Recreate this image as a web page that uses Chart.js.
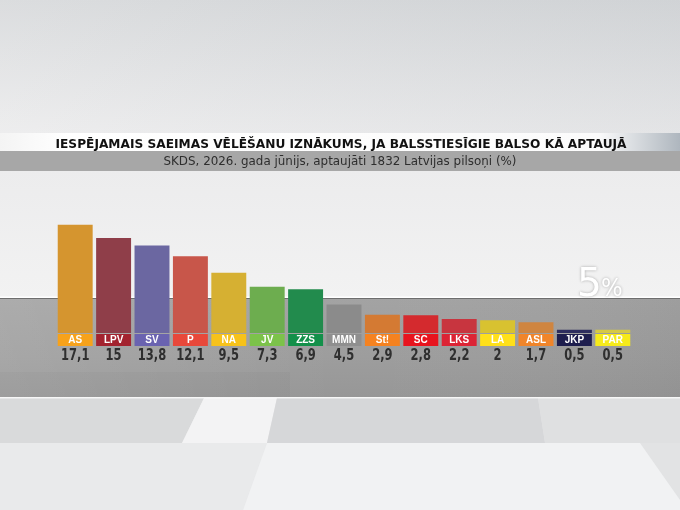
<!DOCTYPE html>
<html>
<head>
<meta charset="utf-8">
<script src="https://cdn.jsdelivr.net/npm/chart.js@4.4.1/dist/chart.umd.min.js"></script>
<style>
  html, body { margin: 0; padding: 0; background: #e6e7e8; }
  canvas { display: block; }
</style>
</head>
<body>
<canvas id="pollChart" width="680" height="510"></canvas>
<script>
// party results, SKDS June 2026
var parties = ['AS', 'LPV', 'SV', 'P', 'NA', 'JV', 'ZZS', 'MMN', 'St!', 'SC', 'LKS', 'LA', 'ASL', 'JKP', 'PAR'];
var results = [17.1, 15, 13.8, 12.1, 9.5, 7.3, 6.9, 4.5, 2.9, 2.8, 2.2, 2, 1.7, 0.5, 0.5];
var barColors = ['#d5952f', '#8f3e49', '#6b67a1', '#c8564a', '#d6b032', '#6dad4f', '#228b4d', '#8b8b8b',
                 '#d47a33', '#d42a2e', '#c8353f', '#d8c230', '#cf8540', '#2d2d5e', '#d6c944'];
var tagColors = ['#f7a21b', '#a3232f', '#6a63b0', '#e8483a', '#f7c21a', '#7cc24a', '#13904a', '#8f8f8f',
                 '#f58220', '#e8141e', '#dc2435', '#ffe01a', '#f0852a', '#1e1e4e', '#f6ea1a'];
var title = 'IESPĒJAMAIS SAEIMAS VĒLĒŠANU IZNĀKUMS, JA BALSSTIESĪGIE BALSO KĀ APTAUJĀ';
var subtitle = 'SKDS, 2026. gada jūnijs, aptaujāti 1832 Latvijas pilsoņi (%)';
var threshold = 5;

function fmt(v) {
  return String(v).replace('.', ',');
}

// draws text squeezed horizontally (the tv font is a narrow one)
function squeezed(ctx, text, x, y, sx) {
  ctx.save();
  ctx.translate(x, y);
  ctx.scale(sx, 1);
  ctx.fillText(text, 0, 0);
  ctx.restore();
}

function poly(ctx, pts, color) {
  ctx.fillStyle = color;
  ctx.beginPath();
  ctx.moveTo(pts[0][0], pts[0][1]);
  for (var i = 1; i < pts.length; i++) ctx.lineTo(pts[i][0], pts[i][1]);
  ctx.closePath();
  ctx.fill();
}

var studioBackground = {
  id: 'studioBackground',
  beforeDraw: function (chart) {
    var ctx = chart.ctx;
    var W = chart.width;
    ctx.save();
    // sky part
    var g = ctx.createLinearGradient(0, 0, 0, 133);
    g.addColorStop(0, '#d6d8da');
    g.addColorStop(1, '#ebebec');
    ctx.fillStyle = g;
    ctx.fillRect(0, 0, W, 133);
    var gr = ctx.createLinearGradient(0, 0, W, 0);
    gr.addColorStop(0, 'rgba(255,255,255,0.12)');
    gr.addColorStop(1, 'rgba(160,168,176,0.10)');
    ctx.fillStyle = gr;
    ctx.fillRect(0, 0, W, 133);

    // middle light area
    var gm = ctx.createLinearGradient(0, 171, 0, 297);
    gm.addColorStop(0, '#ececed');
    gm.addColorStop(1, '#f2f2f2');
    ctx.fillStyle = gm;
    ctx.fillRect(0, 171, W, 127);

    // grey band under the 5% line
    var gb = ctx.createLinearGradient(0, 298, 0, 397);
    gb.addColorStop(0, '#a3a3a3');
    gb.addColorStop(0.6, '#9d9d9d');
    gb.addColorStop(1, '#979797');
    ctx.fillStyle = gb;
    ctx.fillRect(0, 298, W, 99);
    var gbx = ctx.createLinearGradient(0, 0, W, 0);
    gbx.addColorStop(0, 'rgba(255,255,255,0.10)');
    gbx.addColorStop(0.5, 'rgba(255,255,255,0)');
    gbx.addColorStop(1, 'rgba(0,0,0,0.03)');
    ctx.fillStyle = gbx;
    ctx.fillRect(0, 298, W, 99);
    ctx.fillStyle = 'rgba(0,0,0,0.025)';
    ctx.fillRect(0, 372, 290, 25);

    // floor
    ctx.fillStyle = '#e3e4e5';
    ctx.fillRect(0, 397, W, 113);
    poly(ctx, [[0, 398], [204, 398], [182, 443], [0, 443]], '#d9dadb');
    poly(ctx, [[204, 398], [277, 398], [267, 443], [182, 443]], '#f3f3f4');
    poly(ctx, [[277, 398], [538, 398], [545, 443], [267, 443]], '#d6d7d9');
    poly(ctx, [[538, 398], [W, 398], [W, 443], [545, 443]], '#dfe0e1');
    poly(ctx, [[0, 443], [267, 443], [243, 510], [0, 510]], '#e9eaeb');
    poly(ctx, [[267, 443], [W, 443], [W, 510], [243, 510]], '#f1f2f3');
    poly(ctx, [[640, 443], [W, 443], [W, 500]], '#e2e3e4');
    ctx.fillStyle = 'rgba(255,255,255,0.7)';
    ctx.fillRect(0, 397, W, 1.5);

    // the 5% line
    ctx.fillStyle = '#ffffff';
    ctx.fillRect(0, 296.5, W, 1.5);
    ctx.fillStyle = '#6e6e6e';
    ctx.fillRect(0, 298, W, 1);

    // title bands
    var gt = ctx.createLinearGradient(0, 0, W, 0);
    gt.addColorStop(0, '#f4f4f4');
    gt.addColorStop(0.1, '#ffffff');
    gt.addColorStop(0.88, '#fbfbfb');
    gt.addColorStop(1, '#aeb6be');
    ctx.fillStyle = gt;
    ctx.fillRect(0, 133, W, 18);
    ctx.fillStyle = '#a7a7a7';
    ctx.fillRect(0, 151, W, 20);

    ctx.fillStyle = '#111111';
    ctx.font = 'bold 13px "DejaVu Sans"';
    ctx.textAlign = 'center';
    ctx.textBaseline = 'alphabetic';
    ctx.fillText(title, 341, 147.5, 571);
    ctx.fillStyle = '#2e2e2e';
    ctx.font = '12.5px "DejaVu Sans"';
    ctx.fillText(subtitle, 340, 165, 353);
    ctx.restore();
  },
  afterDatasetsDraw: function (chart) {
    var ctx = chart.ctx;
    var meta = chart.getDatasetMeta(0);
    ctx.save();
    ctx.textAlign = 'center';
    meta.data.forEach(function (bar, i) {
      var w = bar.width;
      var x0 = bar.x - w / 2;
      ctx.fillStyle = tagColors[i];
      ctx.fillRect(x0, 334, w, 12);
      ctx.fillStyle = '#ffffff';
      ctx.font = 'bold 10px "Liberation Sans"';
      ctx.textBaseline = 'middle';
      ctx.fillText(parties[i], bar.x, 340.5);
      ctx.fillStyle = '#2f2f2f';
      ctx.font = 'bold 16px "DejaVu Sans"';
      ctx.textBaseline = 'alphabetic';
      squeezed(ctx, fmt(results[i]), bar.x, 360, 0.72);
    });

    // threshold label
    var right = chart.chartArea.right;
    ctx.textAlign = 'left';
    ctx.shadowColor = 'rgba(0,0,0,0.3)';
    ctx.shadowBlur = 3;
    ctx.fillStyle = '#ffffff';
    ctx.font = '39px "DejaVu Sans"';
    ctx.textBaseline = 'alphabetic';
    squeezed(ctx, String(threshold), right - 55, 296, 1);
    ctx.font = '24px "DejaVu Sans"';
    squeezed(ctx, '%', right - 31, 296, 0.95);
    ctx.restore();
  }
};

var chart = new Chart(document.getElementById('pollChart'), {
  type: 'bar',
  data: {
    labels: parties,
    datasets: [{
      data: results,
      backgroundColor: barColors,
      borderWidth: 0,
      categoryPercentage: 0.91,
      barPercentage: 1
    }]
  },
  options: {
    responsive: false,
    animation: false,
    layout: { padding: { left: 56, right: 48, top: 181, bottom: 177 } },
    scales: {
      x: { display: false },
      y: { display: false, min: 0, max: 24 }
    },
    plugins: {
      legend: { display: false },
      tooltip: { enabled: false }
    }
  },
  plugins: [studioBackground]
});
</script>
</body>
</html>
